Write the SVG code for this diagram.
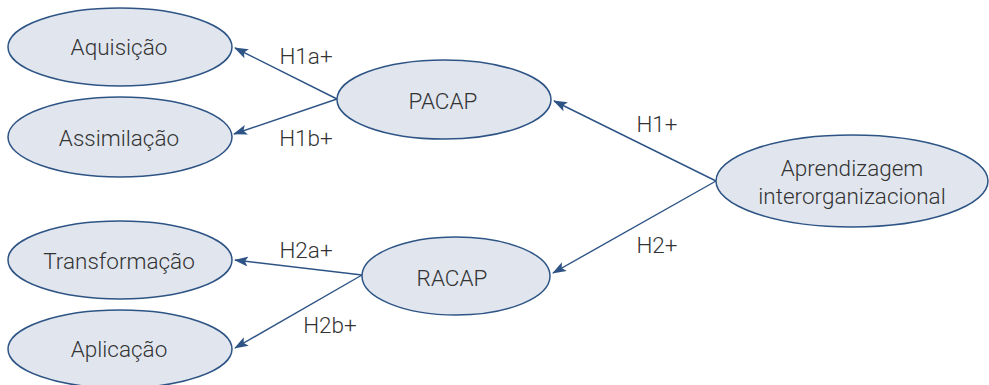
<svg xmlns="http://www.w3.org/2000/svg" width="989" height="385" viewBox="0 0 989 385">
<defs>
<style>
.node ellipse{fill:#e1e6ee;stroke:#2d5485;stroke-width:1.5}
text{font-family:Roboto,"Liberation Sans",Arial,sans-serif;font-weight:300;font-size:22.5px;fill:#333;text-anchor:middle}
.conn line{stroke:#2d5485;stroke-width:1.4}
</style>
<marker id="ah" viewBox="0 0 14 10" refX="13" refY="5" markerWidth="14" markerHeight="10" markerUnits="userSpaceOnUse" orient="auto">
<path d="M0,0 L14,5 L0,10 L3,5 Z" fill="#2d5485"/>
</marker>
</defs>
<rect width="989" height="385" fill="#fff"/>
<g class="conn">
<line x1="337" y1="99" x2="235" y2="48" marker-end="url(#ah)"/>
<line x1="337" y1="99" x2="234" y2="134" marker-end="url(#ah)"/>
<line x1="716" y1="181" x2="554" y2="101" marker-end="url(#ah)"/>
<line x1="716" y1="181" x2="553" y2="273" marker-end="url(#ah)"/>
<line x1="362" y1="275" x2="235" y2="260" marker-end="url(#ah)"/>
<line x1="362" y1="275" x2="235" y2="348" marker-end="url(#ah)"/>
<text x="306" y="64">H1a+</text>
<text x="306" y="146">H1b+</text>
<text x="657" y="132">H1+</text>
<text x="657" y="253">H2+</text>
<text x="306" y="258">H2a+</text>
<text x="330" y="333">H2b+</text>
</g>
<g id="aquisicao" class="node"><ellipse cx="120" cy="47" rx="112" ry="39"/><text x="119" y="55">Aquisição</text></g>
<g id="assimilacao" class="node"><ellipse cx="120" cy="137" rx="112" ry="40"/><text x="119" y="146">Assimilação</text></g>
<g id="transformacao" class="node"><ellipse cx="120" cy="260" rx="112" ry="39"/><text x="119" y="269">Transformação</text></g>
<g id="aplicacao" class="node"><ellipse cx="120" cy="349" rx="112" ry="39"/><text x="119" y="357">Aplicação</text></g>
<g id="pacap" class="node"><ellipse cx="444" cy="99.5" rx="107" ry="39.5"/><text x="443" y="109">PACAP</text></g>
<g id="racap" class="node"><ellipse cx="456" cy="276" rx="94" ry="39"/><text x="452" y="286">RACAP</text></g>
<g id="aprendizagem" class="node"><ellipse cx="852" cy="181" rx="136" ry="46"/><text x="852" y="176">Aprendizagem</text><text x="852" y="204">interorganizacional</text></g>
</svg>
